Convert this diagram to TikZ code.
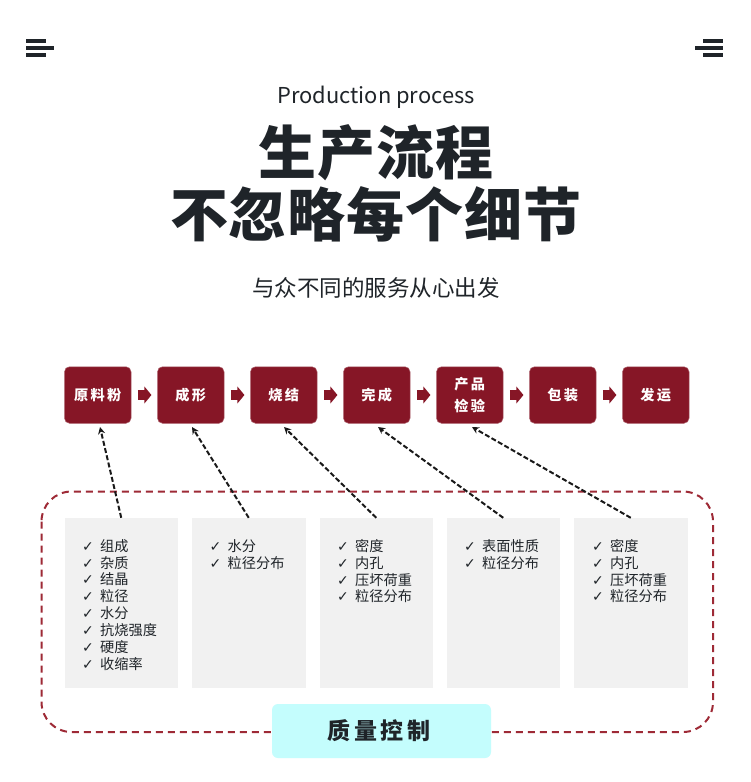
\documentclass[tikz,border=0pt]{standalone}
\usepackage{fontspec}
\usetikzlibrary{arrows.meta}
\setmainfont{Noto Sans CJK SC}
\newfontfamily\chk{DejaVu Sans}
\definecolor{wine}{HTML}{861626}
\definecolor{dashred}{HTML}{9E2A36}
\definecolor{ink}{HTML}{1F2429}
\definecolor{panel}{HTML}{F1F1F1}
\definecolor{aqua}{HTML}{C4FDFD}
\newcommand{\fs}[1]{\fontsize{#1}{#1}\selectfont}
\newcommand{\ck}{{\chk\fontsize{14}{16.9}\selectfont ✓}\hspace{6.3pt}}
\tikzset{
  x=1pt,y=-1pt,
  stepbox/.style={fill=wine,draw=wine!70!white,line width=.5pt,rounded corners=5pt,minimum width=66.5pt,minimum height=56.5pt,inner sep=0pt,text=white,align=center,font=\fs{14.2}\bfseries},
  flowarrow/.style={draw=wine,line width=10.5pt,shorten <=6.6pt,shorten >=5.8pt,-{Triangle[length=7pt,width=16.5pt]}},
  panelbox/.style={fill=panel,draw=none,minimum width=113.5pt,minimum height=170pt,inner sep=0pt},
  listtext/.style={anchor=north west,inner sep=0pt,text=ink,align=left,font=\fontsize{14.2}{16.9}\selectfont,text width=100pt},
  link/.style={draw=black!90,line width=2pt,dash pattern=on 5pt off 2.4pt,-{Stealth[length=7pt,width=7pt]}},
  menubar/.style={fill=ink,draw=none},
  heading/.style={text=ink,inner sep=0pt},
}
\begin{document}
\begin{tikzpicture}
\useasboundingbox (0,0) rectangle (750,782);
\fill[white] (0,0) rectangle (750,782);
% menu icons
\fill[menubar] (26,39) rectangle (46,43);
\fill[menubar] (26,46) rectangle (54,50);
\fill[menubar] (26,53) rectangle (46,57);
\fill[menubar] (703,39) rectangle (723,43);
\fill[menubar] (695,46) rectangle (723,50);
\fill[menubar] (703,53) rectangle (723,57);
% headings
\node[heading,font=\fs{21.9}] (en) at (376,97) {Production process};
\node[heading,font=\fs{58}\bfseries\addfontfeature{LetterSpace=1.7}] (t1) at (376,153) {生产流程};
\node[heading,font=\fs{58}\bfseries\addfontfeature{LetterSpace=1.7}] (t2) at (376,214) {不忽略每个细节};
\node[heading,font=\fs{22.5}] (sub) at (376,288) {与众不同的服务从心出发};
% dashed frame
\draw[dashred,line width=2pt,dash pattern=on 7pt off 5pt,rounded corners=30pt] (41.5,491.5) rectangle (713,732);
% process boxes
\node[stepbox] (s1) at (97.75,395) {原\,料\,粉};
\node[stepbox] (s2) at (190.75,395) {成\,形};
\node[stepbox] (s3) at (283.75,395) {烧\,结};
\node[stepbox] (s4) at (376.75,395) {完\,成};
\node[stepbox] (s5) at (469.75,395) {产\,品\\[7pt]检\,验};
\node[stepbox] (s6) at (562.75,395) {包\,装};
\node[stepbox] (s7) at (655.75,395) {发\,运};
\draw[flowarrow] (s1) -- (s2);
\draw[flowarrow] (s2) -- (s3);
\draw[flowarrow] (s3) -- (s4);
\draw[flowarrow] (s4) -- (s5);
\draw[flowarrow] (s5) -- (s6);
\draw[flowarrow] (s6) -- (s7);
% panels
\node[panelbox] (g1) at (121.25,603) {};
\node[panelbox] (g2) at (248.75,603) {};
\node[panelbox] (g3) at (376.25,603) {};
\node[panelbox] (g4) at (503.25,603) {};
\node[panelbox] (g5) at (630.75,603) {};
\node[listtext] (l1) at (82,539) {\ck 组成\\\ck 杂质\\\ck 结晶\\\ck 粒径\\\ck 水分\\\ck 抗烧强度\\\ck 硬度\\\ck 收缩率};
\node[listtext] (l2) at (209.5,539) {\ck 水分\\\ck 粒径分布};
\node[listtext] (l3) at (337,539) {\ck 密度\\\ck 内孔\\\ck 压坏荷重\\\ck 粒径分布};
\node[listtext] (l4) at (464,539) {\ck 表面性质\\\ck 粒径分布};
\node[listtext] (l5) at (592,539) {\ck 密度\\\ck 内孔\\\ck 压坏荷重\\\ck 粒径分布};
% quality box
\node[fill=aqua,draw=none,rounded corners=6pt,minimum width=219pt,minimum height=54pt,inner sep=0pt] (q) at (381.5,731) {};
\node[heading,font=\fs{23}\bfseries] (qt) at (379,731) {质\,量\,控\,制};
% links
\coordinate (e1) at (100,427);
\coordinate (e2) at (192,427);
\coordinate (e3) at (284,427);
\coordinate (e4) at (378,427);
\coordinate (e5) at (472,427);
\draw[link] (g1.north) -- (e1);
\draw[link] (g2.north) -- (e2);
\draw[link] (g3.north) -- (e3);
\draw[link] (g4.north) -- (e4);
\draw[link] (g5.north) -- (e5);
\end{tikzpicture}
\end{document}
